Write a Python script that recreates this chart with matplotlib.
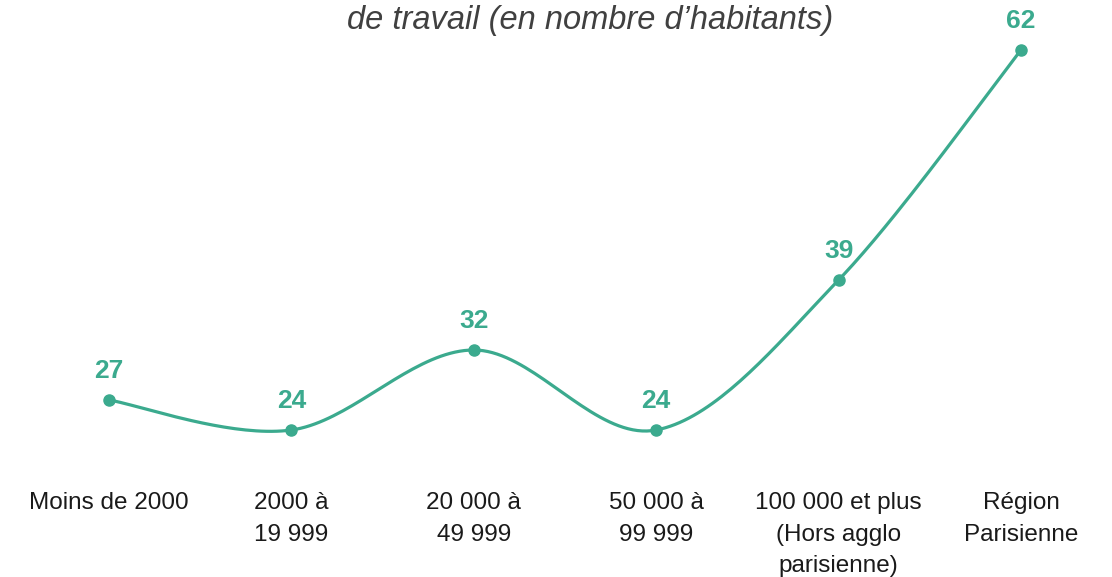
import numpy as np
import matplotlib.pyplot as plt

plt.rcParams['font.family'] = ['Liberation Sans', 'DejaVu Sans']

categories = ['Moins de 2000', '2000 à\n19 999', '20 000 à\n49 999', '50 000 à\n99 999',
              '100 000 et plus\n(Hors agglo\nparisienne)', 'Région\nParisienne']
values = [27, 24, 32, 24, 39, 62]
title = "de travail (en nombre d\u2019habitants)"

green = '#3BAA8E'

# smooth line like a spreadsheet "smoothed line" (cardinal bezier)
x = np.arange(len(values), dtype=float)
y = np.array(values, dtype=float)
px = np.concatenate([[x[0]], x, [x[-1]]])
py = np.concatenate([[y[0]], y, [y[-1]]])
t = np.linspace(0, 1, 40)
sx, sy = [], []
for i in range(len(x) - 1):
    p0 = np.array([x[i], y[i]])
    p3 = np.array([x[i + 1], y[i + 1]])
    p1 = p0 + (np.array([px[i + 2], py[i + 2]]) - np.array([px[i], py[i]])) / 6
    p2 = p3 - (np.array([px[i + 3], py[i + 3]]) - np.array([px[i + 1], py[i + 1]])) / 6
    b = ((1 - t) ** 3)[:, None] * p0 + (3 * (1 - t) ** 2 * t)[:, None] * p1 \
        + (3 * (1 - t) * t ** 2)[:, None] * p2 + (t ** 3)[:, None] * p3
    sx.extend(b[:, 0])
    sy.extend(b[:, 1])

fig = plt.figure(figsize=(11.12, 5.77), dpi=100)
ax = fig.add_axes([0, 0, 1, 1])
ax.set_xlim(-109 / 182.4, (1112 - 109) / 182.4)
ax.set_ylim(9.3, 67)
ax.axis('off')

ax.plot(sx, sy, color=green, lw=2.3, solid_capstyle='round')
ax.plot(x, y, 'o', color=green, ms=8)

for xi, v in zip(x, values):
    ax.annotate(str(v), (xi, v), xytext=(0, 21), textcoords='offset points',
                ha='center', va='center', fontsize=19, fontweight='bold', color=green)

for xi, lab in zip(x, categories):
    ax.text(xi, 17.8, lab, ha='center', va='top', multialignment='center',
            fontsize=17.5, color='#1a1a1a', linespacing=1.56)

fig.text(590 / 1112, 1 - 21 / 577, title, ha='center', va='center',
         fontsize=23.5, style='italic', color='#404040')

fig.savefig('out.png', dpi=100)
